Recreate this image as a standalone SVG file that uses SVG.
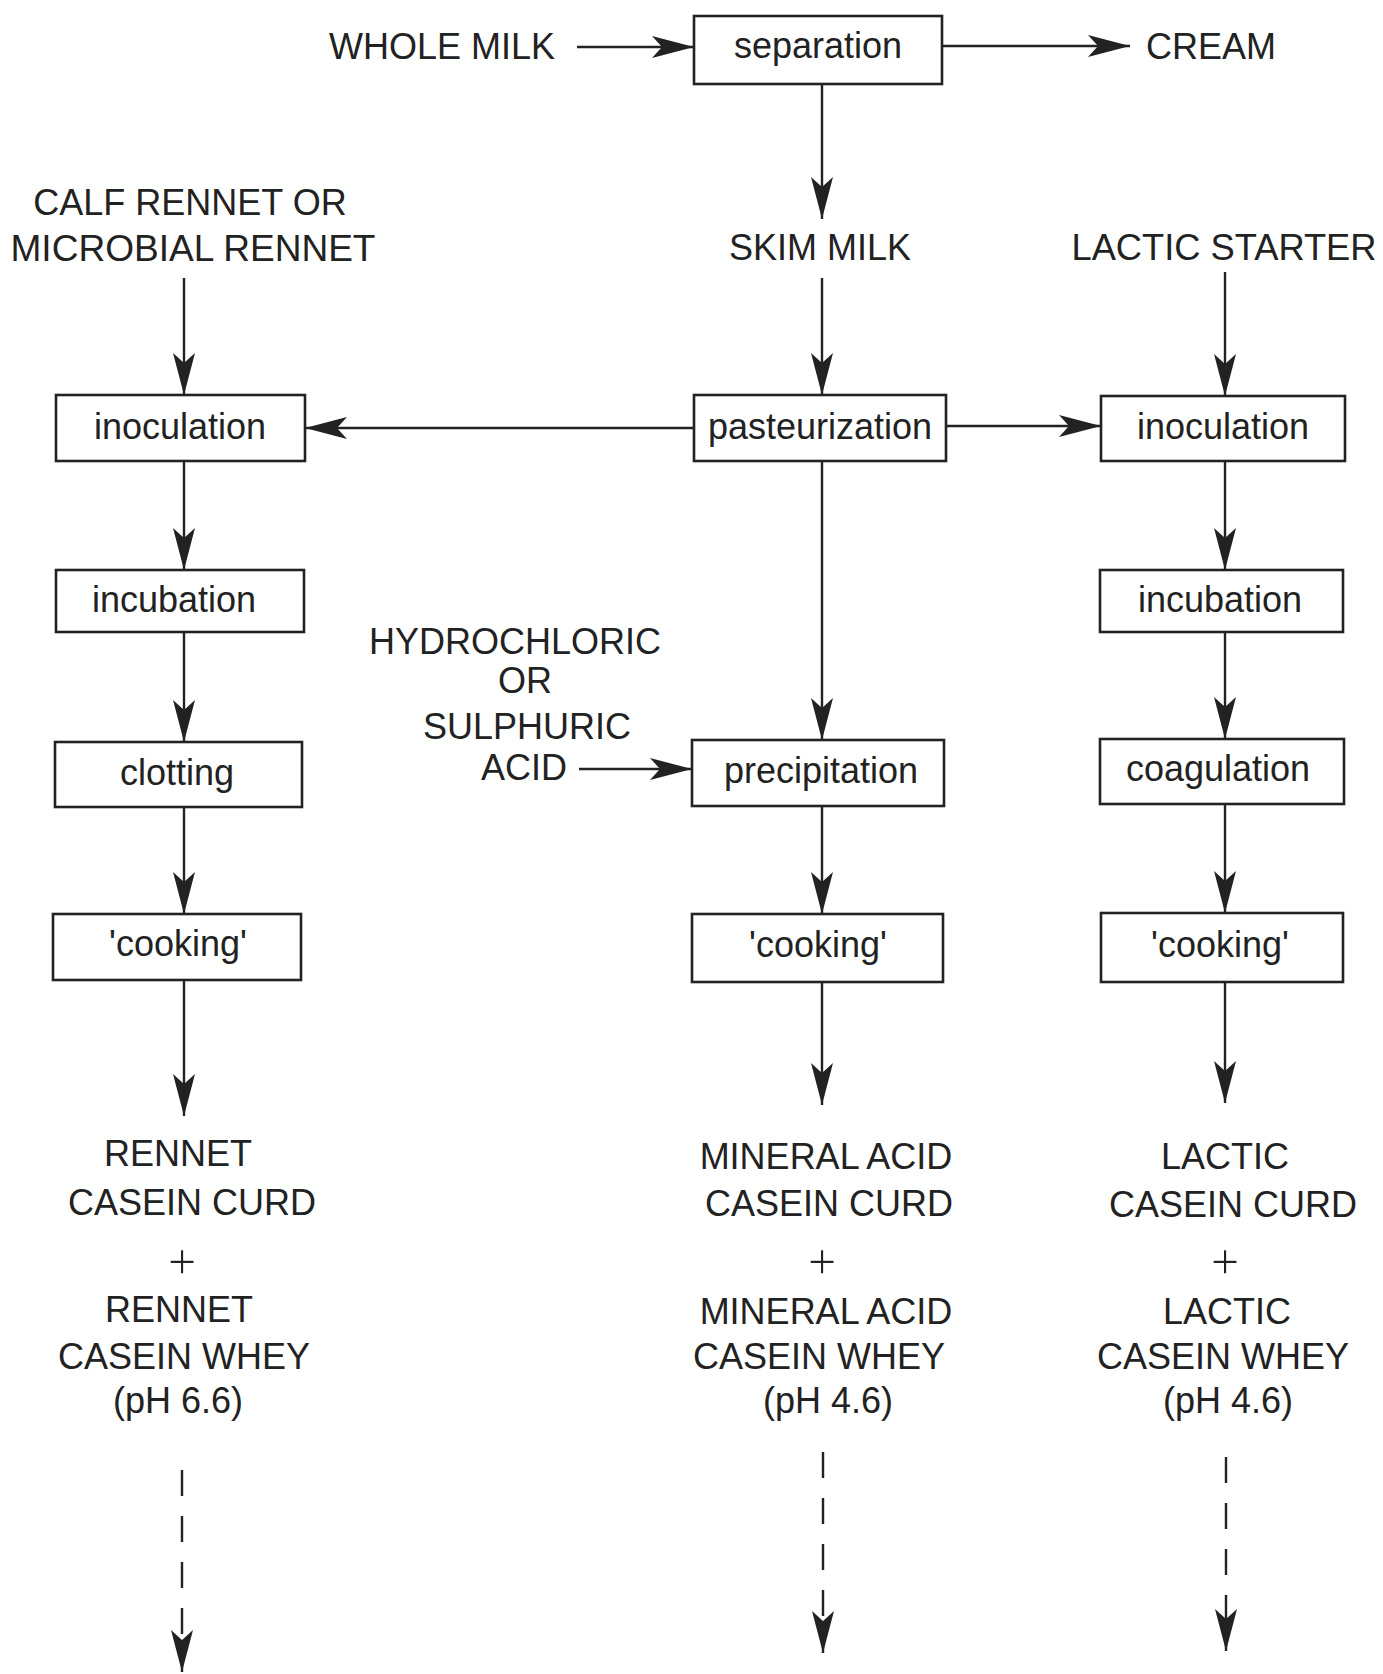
<svg xmlns="http://www.w3.org/2000/svg" width="1383" height="1674" viewBox="0 0 1383 1674">
<style>
text{font-family:"Liberation Sans",Arial,sans-serif;font-size:36px;fill:#222;text-anchor:middle}
.box{fill:#fff;stroke:#222;stroke-width:2.6}
.ln{stroke:#222;stroke-width:2.4;fill:none}
.dash{stroke-dasharray:26 20}
.plus{font-size:50px;stroke:#fff;stroke-width:1.4}
</style>
<defs>
<marker id="ah" markerUnits="userSpaceOnUse" markerWidth="50" markerHeight="26" refX="44" refY="12" orient="auto" viewBox="0 0 50 26">
<path d="M44,12 L2,1 L12,12 L2,23 Z" fill="#222"/>
</marker>
</defs>
<rect width="1383" height="1674" fill="#fff"/>
<g id="connectors">
<line class="ln" x1="577" y1="47" x2="694" y2="47" marker-end="url(#ah)"/>
<line class="ln" x1="942" y1="46" x2="1130" y2="46" marker-end="url(#ah)"/>
<line class="ln" x1="822" y1="84" x2="822" y2="219" marker-end="url(#ah)"/>
<line class="ln" x1="184" y1="278" x2="184" y2="395" marker-end="url(#ah)"/>
<line class="ln" x1="822" y1="278" x2="822" y2="395" marker-end="url(#ah)"/>
<line class="ln" x1="1225" y1="272" x2="1225" y2="396" marker-end="url(#ah)"/>
<line class="ln" x1="694" y1="428" x2="305" y2="428" marker-end="url(#ah)"/>
<line class="ln" x1="946" y1="426" x2="1101" y2="426" marker-end="url(#ah)"/>
<line class="ln" x1="184" y1="461" x2="184" y2="570" marker-end="url(#ah)"/>
<line class="ln" x1="1225" y1="461" x2="1225" y2="570" marker-end="url(#ah)"/>
<line class="ln" x1="822" y1="461" x2="822" y2="740" marker-end="url(#ah)"/>
<line class="ln" x1="184" y1="632" x2="184" y2="742" marker-end="url(#ah)"/>
<line class="ln" x1="1225" y1="632" x2="1225" y2="739" marker-end="url(#ah)"/>
<line class="ln" x1="579" y1="769" x2="692" y2="769" marker-end="url(#ah)"/>
<line class="ln" x1="184" y1="807" x2="184" y2="914" marker-end="url(#ah)"/>
<line class="ln" x1="822" y1="806" x2="822" y2="914" marker-end="url(#ah)"/>
<line class="ln" x1="1225" y1="804" x2="1225" y2="913" marker-end="url(#ah)"/>
<line class="ln" x1="184" y1="980" x2="184" y2="1116" marker-end="url(#ah)"/>
<line class="ln" x1="822" y1="982" x2="822" y2="1105" marker-end="url(#ah)"/>
<line class="ln" x1="1225" y1="982" x2="1225" y2="1103" marker-end="url(#ah)"/>
<line class="ln dash" x1="182" y1="1470" x2="182" y2="1672" marker-end="url(#ah)"/>
<line class="ln dash" x1="823" y1="1452" x2="823" y2="1653" marker-end="url(#ah)"/>
<line class="ln dash" x1="1226" y1="1457" x2="1226" y2="1651" marker-end="url(#ah)"/>
</g>
<g id="separation"><rect class="box" x="694" y="16" width="248" height="68"/><text x="818" y="58">separation</text></g>
<g id="inoculation-left"><rect class="box" x="56" y="395" width="249" height="66"/><text x="180" y="439">inoculation</text></g>
<g id="pasteurization"><rect class="box" x="694" y="395" width="252" height="66"/><text x="820" y="439">pasteurization</text></g>
<g id="inoculation-right"><rect class="box" x="1101" y="396" width="244" height="65"/><text x="1223" y="439">inoculation</text></g>
<g id="incubation-left"><rect class="box" x="56" y="570" width="248" height="62"/><text x="174" y="612">incubation</text></g>
<g id="incubation-right"><rect class="box" x="1100" y="570" width="243" height="62"/><text x="1220" y="612">incubation</text></g>
<g id="clotting"><rect class="box" x="55" y="742" width="247" height="65"/><text x="177" y="785">clotting</text></g>
<g id="precipitation"><rect class="box" x="692" y="740" width="252" height="66"/><text x="821" y="783">precipitation</text></g>
<g id="coagulation"><rect class="box" x="1100" y="739" width="244" height="65"/><text x="1218" y="781">coagulation</text></g>
<g id="cooking-left"><rect class="box" x="53" y="914" width="248" height="66"/><text x="178" y="956">'cooking'</text></g>
<g id="cooking-mid"><rect class="box" x="692" y="914" width="251" height="68"/><text x="818" y="957">'cooking'</text></g>
<g id="cooking-right"><rect class="box" x="1101" y="913" width="242" height="69"/><text x="1220" y="957">'cooking'</text></g>
<g id="whole-milk"><text x="442" y="59">WHOLE MILK</text></g>
<g id="cream"><text x="1211" y="59">CREAM</text></g>
<g id="rennet-source"><text x="190" y="215">CALF RENNET OR</text><text x="193" y="261" textLength="365" lengthAdjust="spacingAndGlyphs">MICROBIAL RENNET</text></g>
<g id="skim-milk"><text x="820" y="260">SKIM MILK</text></g>
<g id="lactic-starter"><text x="1224" y="260" textLength="305" lengthAdjust="spacingAndGlyphs">LACTIC STARTER</text></g>
<g id="acid"><text x="515" y="654">HYDROCHLORIC</text><text x="525" y="693">OR</text><text x="527" y="739">SULPHURIC</text><text x="524" y="780">ACID</text></g>
<g id="rennet-products"><text x="178" y="1166">RENNET</text><text x="192" y="1215">CASEIN CURD</text><text class="plus" x="182" y="1278">+</text><text x="179" y="1322">RENNET</text><text x="184" y="1369">CASEIN WHEY</text><text x="178" y="1413">(pH 6.6)</text></g>
<g id="mineral-products"><text x="826" y="1169">MINERAL ACID</text><text x="829" y="1216">CASEIN CURD</text><text class="plus" x="822" y="1278">+</text><text x="826" y="1324">MINERAL ACID</text><text x="819" y="1369">CASEIN WHEY</text><text x="828" y="1413">(pH 4.6)</text></g>
<g id="lactic-products"><text x="1225" y="1169">LACTIC</text><text x="1233" y="1217">CASEIN CURD</text><text class="plus" x="1225" y="1278">+</text><text x="1227" y="1324">LACTIC</text><text x="1223" y="1369">CASEIN WHEY</text><text x="1228" y="1413">(pH 4.6)</text></g>
</svg>
